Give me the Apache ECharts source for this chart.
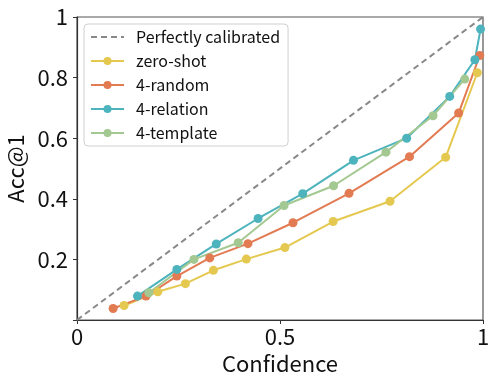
<!DOCTYPE html>
<html>
<head>
<meta charset="utf-8">
<script src="https://cdn.jsdelivr.net/npm/echarts@6/dist/echarts.min.js"></script>
<style>
  html, body { margin: 0; padding: 0; background: #fff; }
  #chart { width: 498px; height: 383px; }
</style>
</head>
<body>
<div id="chart"></div>
<script>
// 曲线数据：置信度 / 准确率
const zeroShotConf = [0.116, 0.199, 0.267, 0.336, 0.417, 0.512, 0.631, 0.771, 0.908, 0.986]
const zeroShotAcc = [0.048, 0.093, 0.120, 0.164, 0.201, 0.239, 0.325, 0.392, 0.537, 0.816]
const randomConf = [0.089, 0.170, 0.246, 0.327, 0.421, 0.532, 0.670, 0.819, 0.940, 0.992]
const randomAcc = [0.038, 0.079, 0.145, 0.205, 0.252, 0.321, 0.418, 0.539, 0.683, 0.873]
const relationConf = [0.149, 0.246, 0.343, 0.446, 0.556, 0.681, 0.812, 0.918, 0.980, 0.994]
const relationAcc = [0.079, 0.167, 0.251, 0.335, 0.417, 0.527, 0.600, 0.738, 0.859, 0.960]
const templateConf = [0.177, 0.288, 0.397, 0.510, 0.632, 0.761, 0.877, 0.955]
const templateAcc = [0.090, 0.200, 0.255, 0.378, 0.443, 0.554, 0.674, 0.795]
const diagonal = [0, 1]
const xTicks = [0, 0.5, 1]

const font = 'Noto Sans CJK JP'

function pairs(xs, ys) {
  return xs.map((x, i) => [x, ys[i]])
}

function curve(name, color, xs, ys) {
  return {
    name: name,
    type: 'line',
    data: pairs(xs, ys),
    symbol: 'circle',
    symbolSize: 9,
    lineStyle: { color: color, width: 2 },
    itemStyle: { color: color },
    z: 3
  }
}

const chart = echarts.init(document.getElementById('chart'))
chart.setOption({
  animation: false,
  textStyle: { fontFamily: font },
  grid: {
    left: 77, right: 15, top: 17, bottom: 63,
    outerBoundsMode: 'none',
    show: true, borderColor: '#555', borderWidth: 1.2
  },
  legend: {
    orient: 'vertical',
    left: 84,
    top: 24,
    padding: [5, 8, 5, 6],
    itemGap: 8,
    itemWidth: 33,
    itemHeight: 10,
    borderColor: '#d0d0d0',
    borderWidth: 1,
    borderRadius: 4,
    textStyle: { fontFamily: font, fontSize: 16, color: '#111', padding: [0, 0, 0, 7] },
    data: [
      // 对角线只画虚线，不画圆点
      { name: 'Perfectly calibrated', itemStyle: { opacity: 0 } },
      'zero-shot', '4-random', '4-relation', '4-template'
    ]
  },
  xAxis: {
    type: 'value',
    min: 0,
    max: 1,
    interval: 0.5,
    name: 'Confidence',
    nameLocation: 'middle',
    nameGap: 31,
    nameTextStyle: { fontFamily: font, fontSize: 22, color: '#111' },
    splitLine: { show: false },
    axisLine: { show: true, lineStyle: { color: '#333', width: 1.2 } },
    axisTick: { show: true, length: 4, lineStyle: { color: '#333' } },
    axisLabel: {
      fontFamily: font, fontSize: 22, color: '#111', margin: 6,
      formatter: v => xTicks.includes(v) ? String(v) : ''
    }
  },
  yAxis: {
    type: 'value',
    min: 0,
    max: 1,
    interval: 0.2,
    name: 'Acc@1',
    nameLocation: 'middle',
    nameGap: 41,
    nameTextStyle: { fontFamily: font, fontSize: 22, color: '#111' },
    splitLine: { show: false },
    axisLine: { show: true, lineStyle: { color: '#333', width: 1.2 } },
    axisTick: { show: true, length: 4, lineStyle: { color: '#333' } },
    axisLabel: {
      fontFamily: font, fontSize: 22, color: '#111', margin: 9,
      formatter: v => v === 0 ? '' : String(+v.toFixed(1))
    }
  },
  series: [
    {
      name: 'Perfectly calibrated',
      type: 'line',
      data: pairs(diagonal, diagonal),
      showSymbol: false,
      symbol: 'none',
      lineStyle: { color: '#888', width: 2, type: [6, 4] },
      itemStyle: { color: '#888' },
      z: 2
    },
    curve('zero-shot', '#e4c84f', zeroShotConf, zeroShotAcc),
    curve('4-random', '#e27a52', randomConf, randomAcc),
    curve('4-relation', '#4db3bd', relationConf, relationAcc),
    curve('4-template', '#a4c891', templateConf, templateAcc)
  ]
})
</script>
</body>
</html>
